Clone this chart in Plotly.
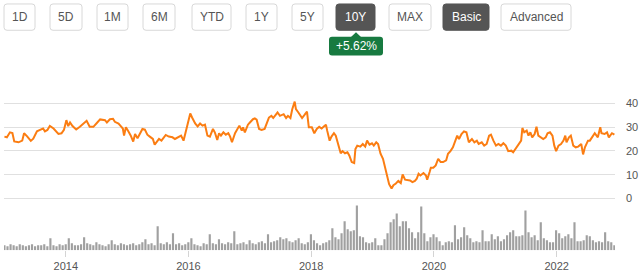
import plotly.graph_objects as go
import pandas as pd

# ---------------- data ----------------
price_t = [
    2013.00, 2013.04, 2013.09, 2013.13, 2013.16, 2013.23, 2013.29, 2013.32, 2013.37, 2013.43,
    2013.47, 2013.53, 2013.58, 2013.63, 2013.66, 2013.70, 2013.74, 2013.80, 2013.88, 2013.93,
    2013.97, 2014.01, 2014.04, 2014.07, 2014.11, 2014.17, 2014.23, 2014.29, 2014.34, 2014.39,
    2014.45, 2014.51, 2014.56, 2014.64, 2014.67, 2014.72, 2014.77, 2014.80, 2014.86, 2014.90,
    2014.93, 2014.95, 2014.98, 2015.02, 2015.06, 2015.10, 2015.13, 2015.17, 2015.21, 2015.25,
    2015.29, 2015.33, 2015.37, 2015.42, 2015.45, 2015.49, 2015.52, 2015.56, 2015.63, 2015.68,
    2015.74, 2015.78, 2015.84, 2015.88, 2015.92, 2015.96, 2016.00, 2016.03, 2016.06, 2016.11,
    2016.15, 2016.19, 2016.23, 2016.27, 2016.31, 2016.35, 2016.40, 2016.43, 2016.47, 2016.50,
    2016.53, 2016.57, 2016.61, 2016.65, 2016.68, 2016.71, 2016.76, 2016.80, 2016.83, 2016.87,
    2016.89, 2016.92, 2016.97, 2017.00, 2017.05, 2017.08, 2017.11, 2017.15, 2017.19, 2017.24,
    2017.28, 2017.31, 2017.35, 2017.38, 2017.42, 2017.45, 2017.49, 2017.55, 2017.59, 2017.62,
    2017.66, 2017.69, 2017.73, 2017.75, 2017.79, 2017.85, 2017.89, 2017.93, 2017.96, 2018.01,
    2018.05, 2018.09, 2018.13, 2018.17, 2018.21, 2018.24, 2018.26, 2018.30, 2018.33, 2018.37,
    2018.40, 2018.44, 2018.48, 2018.51, 2018.55, 2018.59, 2018.62, 2018.66, 2018.70, 2018.72,
    2018.75, 2018.80, 2018.84, 2018.88, 2018.91, 2018.95, 2018.99, 2019.02, 2019.06, 2019.09,
    2019.13, 2019.17, 2019.20, 2019.24, 2019.27, 2019.31, 2019.34, 2019.38, 2019.42, 2019.46,
    2019.49, 2019.53, 2019.57, 2019.61, 2019.65, 2019.69, 2019.72, 2019.75, 2019.78, 2019.83,
    2019.87, 2019.89, 2019.93, 2019.95, 2019.99, 2020.03, 2020.07, 2020.11, 2020.15, 2020.20,
    2020.23, 2020.27, 2020.31, 2020.34, 2020.38, 2020.41, 2020.45, 2020.49, 2020.53, 2020.57,
    2020.62, 2020.66, 2020.70, 2020.73, 2020.78, 2020.82, 2020.86, 2020.90, 2020.93, 2020.97,
    2021.01, 2021.05, 2021.09, 2021.13, 2021.17, 2021.21, 2021.26, 2021.29, 2021.33, 2021.38,
    2021.42, 2021.44, 2021.47, 2021.51, 2021.54, 2021.57, 2021.60, 2021.64, 2021.67, 2021.70,
    2021.74, 2021.78, 2021.82, 2021.85, 2021.89, 2021.93, 2021.96, 2021.99, 2022.03, 2022.07,
    2022.11, 2022.14, 2022.16, 2022.20, 2022.23, 2022.27, 2022.31, 2022.35, 2022.40, 2022.43,
    2022.46, 2022.51, 2022.54, 2022.58, 2022.62, 2022.67, 2022.71, 2022.73, 2022.78, 2022.82,
    2022.85, 2022.90, 2022.94,
]
price = [
    26.0, 25.7, 27.8, 27.5, 24.0, 23.6, 24.3, 27.4, 26.1, 24.2,
    25.1, 28.2, 28.8, 29.4, 28.2, 28.8, 30.5, 29.4, 27.1, 27.4,
    28.8, 32.9, 30.4, 31.9, 30.4, 29.0, 30.1, 31.3, 32.6, 30.1,
    30.1, 31.8, 33.2, 32.9, 31.9, 33.3, 33.5, 32.2, 31.5, 30.3,
    29.4, 26.4, 29.9, 28.2, 26.4, 23.9, 27.1, 25.3, 27.1, 29.2,
    28.9, 26.8, 26.0, 25.0, 22.6, 24.0, 25.0, 24.3, 26.7, 26.0,
    25.7, 25.0, 25.7, 26.4, 24.3, 28.8, 32.6, 35.7, 34.0, 31.5,
    30.3, 31.5, 30.6, 31.0, 26.4, 26.0, 29.2, 27.8, 24.6, 27.4,
    26.4, 27.8, 26.8, 27.4, 26.0, 23.6, 27.4, 29.2, 30.6, 28.5,
    29.9, 27.8, 31.0, 31.9, 33.3, 33.6, 33.1, 29.2, 28.8, 29.2,
    32.4, 34.0, 34.7, 33.8, 35.1, 36.1, 34.7, 35.4, 33.8, 34.7,
    33.8, 37.5, 40.7, 37.5, 36.1, 33.8, 35.1, 36.5, 29.9, 29.9,
    27.4, 29.2, 30.1, 29.4, 30.3, 31.0, 28.5, 24.3, 26.0, 27.4,
    26.4, 22.9, 19.0, 19.9, 19.0, 19.4, 18.1, 15.3, 14.9, 20.8,
    22.2, 21.8, 22.9, 21.8, 24.3, 22.6, 23.2, 22.2, 23.6, 22.9,
    18.8, 16.7, 13.2, 9.0, 6.0, 4.2, 5.6, 6.3, 7.4, 6.5,
    10.1, 7.9, 7.9, 7.6, 6.9, 7.4, 8.3, 10.4, 9.7, 10.7,
    9.7, 7.9, 11.1, 12.9, 12.9, 13.9, 16.7, 15.3, 15.3, 16.0,
    18.8, 19.9, 21.5, 24.0, 26.4, 25.0, 27.1, 28.2, 27.8, 23.6,
    25.0, 23.6, 24.3, 22.9, 23.6, 22.2, 22.9, 26.4, 26.8, 24.3,
    22.2, 22.9, 22.2, 23.2, 22.2, 19.9, 20.1, 19.4, 20.8, 22.9,
    24.3, 29.6, 27.8, 28.5, 26.4, 27.8, 25.7, 27.1, 30.1, 26.4,
    25.7, 25.0, 25.7, 27.4, 27.8, 26.4, 22.2, 19.9, 22.2, 22.9,
    24.3, 26.4, 23.6, 25.7, 26.4, 22.2, 21.5, 21.8, 22.9, 18.5,
    21.5, 24.3, 24.3, 26.0, 27.4, 25.7, 29.9, 27.4, 27.1, 27.8,
    25.7, 27.4, 26.8,
]
volume = [
    5, 4, 6, 5, 4, 6, 5, 4, 5, 6, 4, 5, 5, 6, 4, 12, 5, 4, 6, 5,
    6, 12, 7, 5, 5, 6, 13, 7, 6, 5, 8, 6, 5, 4, 6, 10, 6, 5, 7, 6,
    5, 6, 7, 5, 6, 8, 11, 6, 7, 5, 24, 7, 6, 8, 6, 17, 6, 7, 5, 6,
    8, 12, 6, 5, 4, 7, 6, 16, 7, 6, 11, 7, 6, 8, 7, 19, 6, 7, 8, 6,
    10, 7, 6, 8, 9, 7, 16, 8, 9, 10, 13, 11, 12, 9, 8, 10, 12, 7, 6, 8,
    16, 10, 7, 5, 7, 8, 10, 22, 13, 11, 17, 29, 21, 19, 20, 45, 14, 13, 8, 7,
    8, 12, 5, 5, 11, 17, 28, 31, 37, 24, 29, 29, 22, 18, 12, 18, 44, 17, 9, 13,
    16, 13, 9, 5, 8, 9, 8, 25, 11, 13, 23, 15, 12, 8, 9, 8, 20, 9, 9, 16,
    11, 14, 9, 11, 15, 18, 20, 14, 14, 15, 40, 18, 13, 15, 10, 28, 12, 10, 8, 8,
    20, 17, 12, 14, 16, 12, 28, 9, 9, 10, 15, 14, 10, 8, 9, 8, 18, 9, 8, 5,
]
year_ticks = [2014, 2016, 2018, 2020, 2022]
price_ticks = [0, 10, 20, 30, 40]
range_buttons = ["1D", "5D", "1M", "6M", "YTD", "1Y", "5Y", "10Y", "MAX"]
mode_buttons = ["Basic", "Advanced"]
active_labels = ["10Y", "Basic"]
change_label = "+5.62%"


def to_ts(y):
    yr = int(y)
    return pd.Timestamp(yr, 1, 1) + pd.Timedelta(days=(y - yr) * 365.25)


price_dates = [to_ts(t) for t in price_t]
vol_dates = pd.date_range("2013-01-01", "2022-12-10", periods=len(volume))

W, H = 640, 272
FONT = "Arial, 'Liberation Sans', sans-serif"

fig = go.Figure()
fig.add_trace(go.Scatter(
    x=price_dates, y=price, mode="lines",
    line=dict(color="#fb7d12", width=2),
    xaxis="x", yaxis="y", hoverinfo="skip",
))
fig.add_trace(go.Bar(
    x=vol_dates, y=volume, marker=dict(color="#a0a0a0", line=dict(width=0)),
    xaxis="x2", yaxis="y2", hoverinfo="skip",
))

x_range = [to_ts(2012.995), to_ts(2022.95)]
xdom = [4 / W, 615 / W]

fig.update_layout(
    width=W, height=H,
    margin=dict(l=0, r=0, t=0, b=0),
    paper_bgcolor="white", plot_bgcolor="white",
    showlegend=False, bargap=0.3,
    font=dict(family=FONT, size=11, color="#555555"),
    xaxis=dict(domain=xdom, range=x_range, anchor="y", showticklabels=False,
               showgrid=False, zeroline=False, showline=False, ticks=""),
    xaxis2=dict(domain=xdom, range=x_range, anchor="y2", matches="x",
                tickvals=[pd.Timestamp(y, 1, 1) for y in year_ticks],
                ticktext=[str(y) for y in year_ticks],
                ticks="outside", ticklen=6, tickcolor="#d4d4d4",
                showgrid=False, zeroline=False, showline=False,
                tickfont=dict(size=11, color="#555555")),
    yaxis=dict(domain=[(H - 205) / H, (H - 95) / H], range=[-5 / 2.4, 105 / 2.4],
               anchor="x", side="right", tickvals=price_ticks,
               showgrid=True, gridcolor="#e0e0e0", gridwidth=1,
               zeroline=False, showline=False, ticks="",
               ticklabelstandoff=10,
               tickfont=dict(size=11, color="#555555")),
    yaxis2=dict(domain=[(H - 252) / H, (H - 205) / H], range=[0, 47],
                anchor="x2", showgrid=False, zeroline=False,
                showticklabels=False, showline=False),
)


def px(x):
    return x / W


def py(y):
    return 1 - y / H


def rrect(x0, y0, x1, y1, r=3):
    pts = (
        f"M {px(x0 + r)},{py(y0)} L {px(x1 - r)},{py(y0)} "
        f"Q {px(x1)},{py(y0)} {px(x1)},{py(y0 + r)} "
        f"L {px(x1)},{py(y1 - r)} Q {px(x1)},{py(y1)} {px(x1 - r)},{py(y1)} "
        f"L {px(x0 + r)},{py(y1)} Q {px(x0)},{py(y1)} {px(x0)},{py(y1 - r)} "
        f"L {px(x0)},{py(y0 + r)} Q {px(x0)},{py(y0)} {px(x0 + r)},{py(y0)} Z"
    )
    return pts


button_boxes = [(4, 35), (50, 82), (97, 128), (143, 175), (192, 231), (246, 277),
                (292, 323), (336, 375), (389, 431), (443, 489), (501, 571)]
labels = range_buttons + mode_buttons
shapes = []
annotations = []
for lab, (bx0, bx1) in zip(labels, button_boxes):
    active = lab in active_labels
    shapes.append(dict(
        type="path", path=rrect(bx0, 4, bx1, 30.5), xref="paper", yref="paper",
        fillcolor="#555555" if active else "white",
        line=dict(color="#555555" if active else "#d8d8d8", width=1), layer="above",
    ))
    annotations.append(dict(
        x=px((bx0 + bx1) / 2), y=py(17.5), xref="paper", yref="paper",
        text=lab, showarrow=False, xanchor="center", yanchor="middle",
        font=dict(family=FONT, size=12, color="white" if active else "#555555"),
    ))

# change badge under active range
shapes.append(dict(type="path", path=rrect(329, 37, 383, 56), xref="paper", yref="paper",
                   fillcolor="#177a40", line=dict(width=0), layer="above"))
shapes.append(dict(type="path",
                   path=f"M {px(351)},{py(37.2)} L {px(356)},{py(32.5)} L {px(361)},{py(37.2)} Z",
                   xref="paper", yref="paper", fillcolor="#177a40", line=dict(width=0), layer="above"))
annotations.append(dict(
    x=px(356), y=py(46.5), xref="paper", yref="paper", text=change_label,
    showarrow=False, xanchor="center", yanchor="middle",
    font=dict(family=FONT, size=12, color="white"),
))

fig.update_layout(shapes=shapes, annotations=annotations)
fig.write_html("out.html")
